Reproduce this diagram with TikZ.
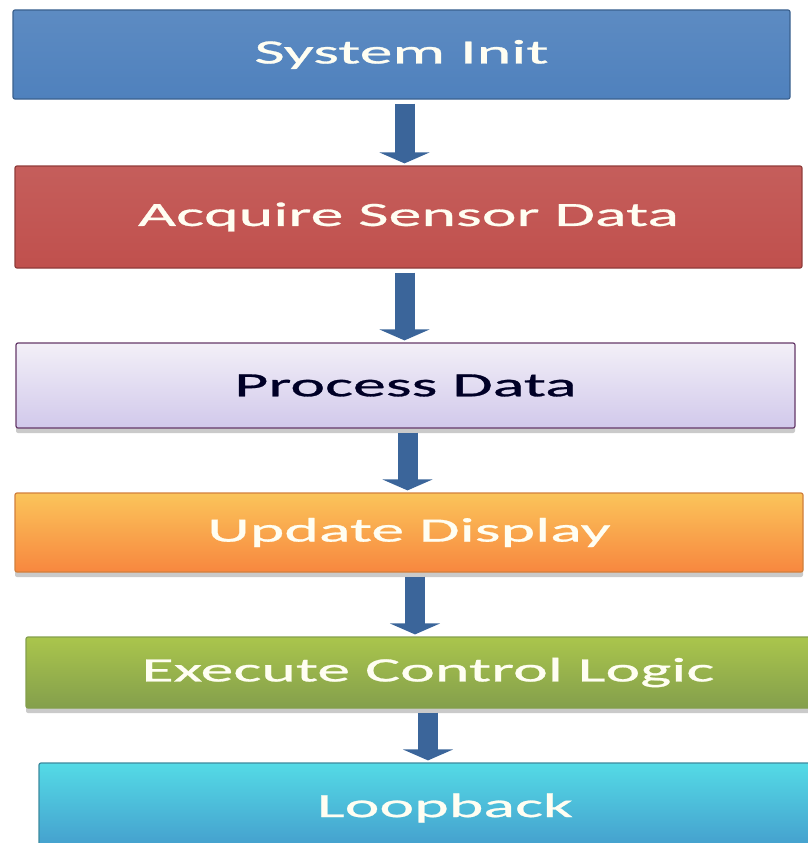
\documentclass[tikz,border=0pt]{standalone}
\usepackage{fontspec}
\setmainfont{Carlito}[FakeStretch=1.94,FakeBold=0.8]
\usetikzlibrary{arrows.meta,shadows}

\definecolor{stepblue}{HTML}{4F81BD}
\definecolor{stepred}{HTML}{C0504D}
\definecolor{steplilac}{HTML}{DCD3EA}
\definecolor{steporange}{HTML}{F79646}
\definecolor{stepgreen}{HTML}{9BBB59}
\definecolor{stepcyan}{HTML}{4BACC6}
\definecolor{arrowblue}{HTML}{3B659A}

\tikzset{
  stepbox/.style={rectangle, rounded corners=2pt, line width=1.2pt,
    text=white!95!yellow, align=center,
    font=\fontsize{34}{40}\selectfont},
  shade/.style={drop shadow={shadow xshift=0pt, shadow yshift=-5pt,
    opacity=0.35, fill=black!60}},
  flow/.style={draw=arrowblue, line width=20pt,
    -{Triangle[width=50pt,length=11pt]}, shorten <=4pt, shorten >=2pt}
}

\begin{document}
\begin{tikzpicture}[x=1pt,y=-1pt]
  \useasboundingbox (0,0) rectangle (807,843);

  % the six steps of the main loop
  \node[stepbox, draw=stepblue!75!black, top color=stepblue!92!white, bottom color=stepblue,
        minimum width=777, minimum height=89] (init) at (401.5,54.5) {System Init};
  \node[stepbox, draw=stepred!75!black, top color=stepred!92!white, bottom color=stepred,
        minimum width=787, minimum height=102] (sensor) at (408.5,217) {Acquire Sensor Data};
  \node[stepbox, shade, draw=steplilac!45!violet!60!black, top color=steplilac!35!white, bottom color=steplilac!95!blue,
        text=black!85!blue, minimum width=779, minimum height=85] (proc) at (405.5,385.5) {Process Data};
  \node[stepbox, shade, draw=steporange!85!black, top color=steporange!70!yellow!80!white, bottom color=steporange!90!red,
        minimum width=788, minimum height=79] (disp) at (409,532.5) {Update Display};
  \node[stepbox, shade, draw=stepgreen!85!black, top color=stepgreen!85!yellow, bottom color=stepgreen!85!black,
        minimum width=804, minimum height=71] (logic) at (428,672.5) {Execute Control Logic};
  \node[stepbox, draw=stepcyan!80!black, top color=stepcyan!55!cyan!80!white, bottom color=stepcyan!90!blue,
        minimum width=812, minimum height=90] (loop) at (445,808) {Loopback};

  % block arrows between the steps
  \foreach \a/\b/\dx in {init/sensor/3, sensor/proc/-4, proc/disp/2, disp/logic/6, logic/loop/0}
    \draw[flow] ([xshift=\dx]\a.south) -- ([xshift=\dx]\a.south |- \b.north);
\end{tikzpicture}
\end{document}
